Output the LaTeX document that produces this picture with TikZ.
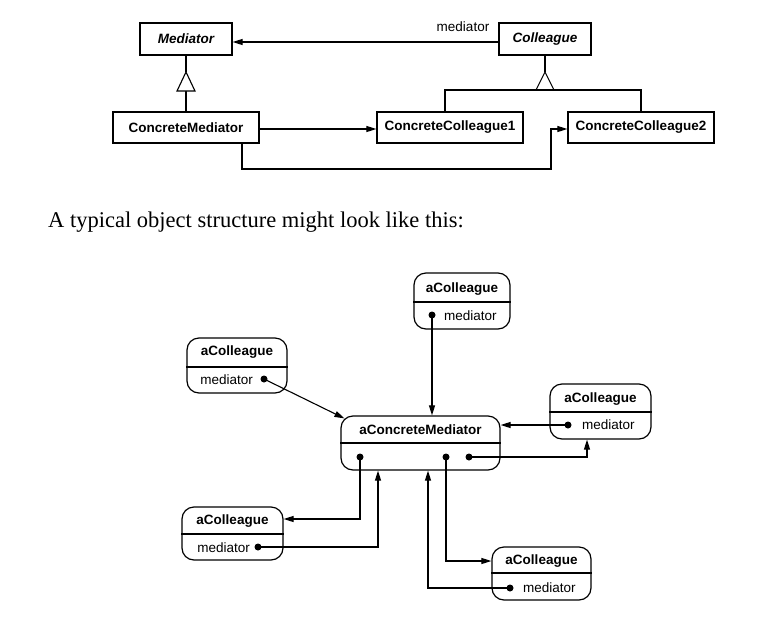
\documentclass[tikz,border=0pt]{standalone}
\usepackage{fontspec}
\newfontfamily\hv{Liberation Sans}
\newfontfamily\tms{Liberation Serif}
\usetikzlibrary{arrows.meta,calc}
\tikzset{
  cls/.style={draw, line width=1.2pt, inner sep=0pt, font=\hv\bfseries\fontsize{13.5}{16}\selectfont},
  obj/.style={draw, line width=1.2pt, rounded corners=12pt, inner sep=0pt},
  ttl/.style={inner sep=0pt, font=\hv\bfseries\fontsize{13.5}{16}\selectfont},
  attr/.style={inner sep=0pt, font=\hv\fontsize{13.5}{16}\selectfont},
  dot/.style={circle, fill=black, inner sep=0pt, minimum size=7pt},
  conn/.style={line width=1.1pt},
  arr/.style={conn, -{Triangle[length=10pt,width=6pt]}},
  tri/.style={draw, line width=1.1pt, fill=white}
}
\begin{document}
\begin{tikzpicture}[x=1pt,y=-1pt]
\useasboundingbox (0,0) rectangle (761,635);
% ---------- class diagram ----------
\node[cls, minimum width=92pt, minimum height=32pt] (med) at (186,39) {\itshape Mediator};
\node[cls, minimum width=92pt, minimum height=32pt] (col) at (545,39) {\itshape Colleague};
\node[cls, minimum width=146pt, minimum height=31pt] (cmed) at (186,127.5) {ConcreteMediator};
\node[cls, minimum width=146pt, minimum height=31pt] (cc1) at (450,127.5) {ConcreteColleague1};
\node[cls, minimum width=146pt, minimum height=31pt] (cc2) at (641,127.5) {ConcreteColleague2};

\draw[arr] ([yshift=-3pt]col.west) -- ([yshift=-3pt]med.east);
\node[attr] (mlab) at (463,27) {mediator};

% inheritance Mediator
\coordinate (t1a) at (186,72);
\coordinate (t1b) at (186,91);
\draw[conn] (med.south) -- (t1a);
\draw[conn] (t1b) -- (cmed.north);
\draw[tri] (t1a) -- (177,91) -- (195,91) -- cycle;

% inheritance Colleague
\coordinate (t2a) at (545,72);
\coordinate (t2b) at (545,90);
\draw[conn] (col.south) -- (t2a);
\draw[tri] (t2a) -- (536,90) -- (554,90) -- cycle;
\draw[conn] ([xshift=-5pt]cc1.north) |- (t2b) -| (cc2.north);

\draw[arr] ([yshift=-1.5pt]cmed.east) -- ([yshift=-1.5pt]cc1.west);
\coordinate (bl) at (242,169);
\draw[arr] (cmed.south -| bl) |- (551,169) |- ([yshift=-1.5pt]cc2.west);

% ---------- sentence ----------
\node[anchor=base west, inner sep=0pt, font=\tms\fontsize{22.5}{26}\selectfont] (txt) at (48,227) {A typical object structure might look like this:};

% ---------- object diagram ----------
% a1 top
\node[obj, minimum width=96pt, minimum height=56pt] (a1) at (462,301) {};
\draw[line width=1.1pt] (a1.west |- 0,302) -- (a1.east |- 0,302);
\node[ttl] at (462,289) {aColleague};
\node[dot] (d1) at (432,315) {};
\node[attr, anchor=west] at (444,316) {mediator};

% a2 left
\node[obj, minimum width=100pt, minimum height=55pt] (a2) at (237,365.5) {};
\draw[line width=1.1pt] (a2.west |- 0,367) -- (a2.east |- 0,367);
\node[ttl] at (237,352) {aColleague};
\node[dot] (d2) at (264,379) {};
\node[attr, anchor=east] at (253,380) {mediator};

% M
\node[obj, minimum width=159pt, minimum height=54pt] (M) at (420.5,443) {};
\draw[line width=1.1pt] (M.west |- 0,443) -- (M.east |- 0,443);
\node[ttl] at (420.5,430) {aConcreteMediator};
\node[dot] (m1) at (360,457) {};
\node[dot] (m2) at (446,457) {};
\node[dot] (m3) at (469,457) {};

% a3 right
\node[obj, minimum width=101pt, minimum height=55pt] (a3) at (600.5,411.5) {};
\draw[line width=1.1pt] (a3.west |- 0,412) -- (a3.east |- 0,412);
\node[ttl] at (600.5,399) {aColleague};
\node[dot] (d3) at (568,425) {};
\node[attr, anchor=west] at (582,425) {mediator};

% a4 bottom left
\node[obj, minimum width=101pt, minimum height=53pt] (a4) at (232.5,533.5) {};
\draw[line width=1.1pt] (a4.west |- 0,534) -- (a4.east |- 0,534);
\node[ttl] at (232.5,521) {aColleague};
\node[dot] (d4) at (258,547) {};
\node[attr, anchor=east] at (250,548) {mediator};

% a5 bottom right
\node[obj, minimum width=99pt, minimum height=53pt] (a5) at (541.5,573.5) {};
\draw[line width=1.1pt] (a5.west |- 0,573) -- (a5.east |- 0,573);
\node[ttl] at (541.5,561) {aColleague};
\node[dot] (d5) at (510,588) {};
\node[attr, anchor=west] at (523,588) {mediator};

% connectors
\draw[arr] (d1.center) -- (M.north -| d1);
\draw[arr] (d2.center) -- ([shift={(4pt,-3pt)}]M.north west);
\draw[arr] (d3.center) -- (M.east |- d3);
\draw[arr] (m3.center) -| ([xshift=-13.5pt]a3.south);
\draw[arr] (m1.center) |- ([yshift=14.5pt]a4.east);
\draw[arr] (d4.center) -| ([xshift=-42.5pt]M.south);
\draw[arr] (d5.center) -| ([xshift=7.5pt]M.south);
\draw[arr] (m2.center) |- ([yshift=12.5pt]a5.west);
\end{tikzpicture}
\end{document}
